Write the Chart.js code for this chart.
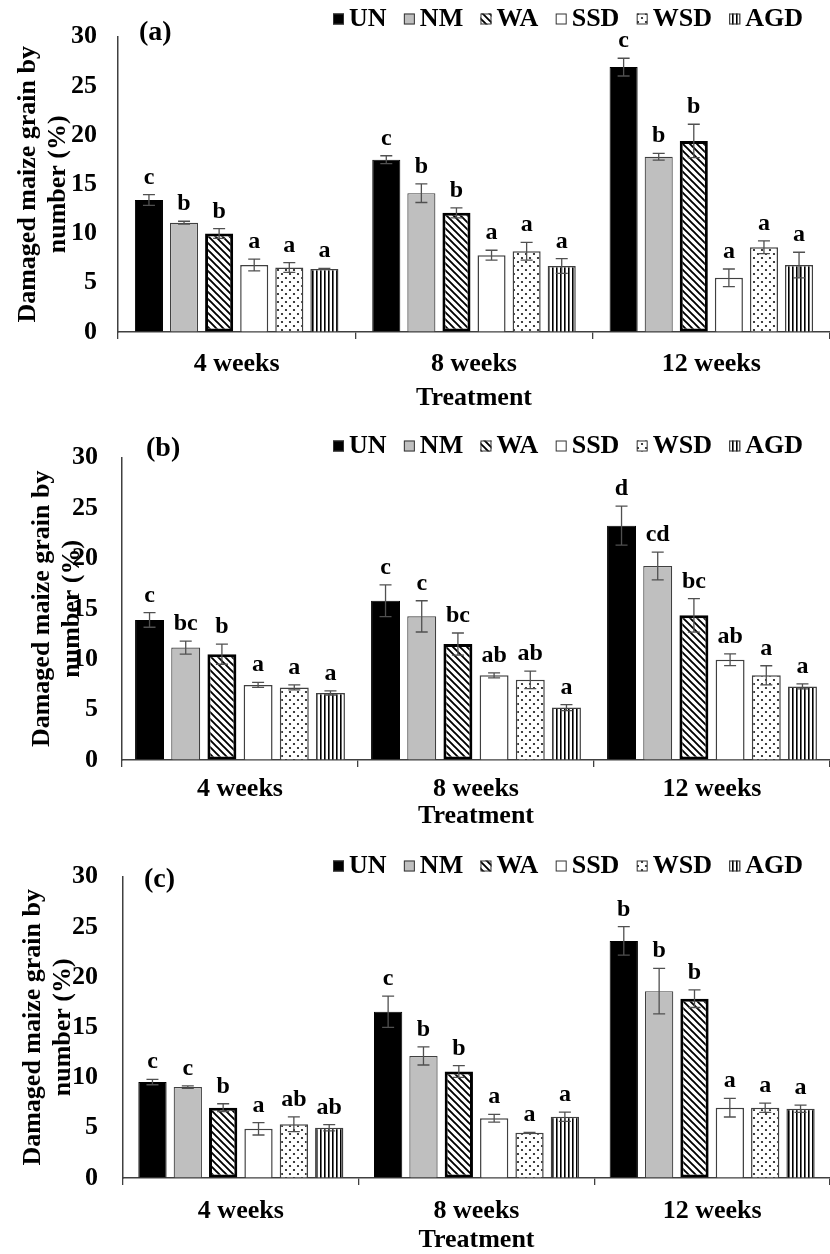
<!DOCTYPE html>
<html><head><meta charset="utf-8">
<script src="https://cdn.jsdelivr.net/npm/chart.js@4.4.0/dist/chart.umd.min.js"></script>
<style>
html,body{margin:0;padding:0;background:#fff;}
#wrap{position:relative;width:830px;height:1254px;overflow:hidden;background:#fff;}
canvas{position:absolute;left:0;}
</style></head><body>
<div id="wrap">
<canvas id="ca" width="830" height="418" style="top:0px"></canvas>
<canvas id="cb" width="830" height="418" style="top:418px"></canvas>
<canvas id="cc" width="830" height="418" style="top:836px"></canvas>
</div>
<script>
// ---------- data ----------
const categories = ['4 weeks', '8 weeks', '12 weeks'];
const seriesNames = ['UN', 'NM', 'WA', 'SSD', 'WSD', 'AGD'];
const yTicks = [0, 5, 10, 15, 20, 25, 30];
const xTitle = 'Treatment';
const yTitle = ['Damaged maize grain by', 'number (%)'];

// panel (a)
const aUN  = [13.4, 17.5, 26.9];   const aUNerr  = [0.55, 0.4, 0.9];   const aUNlet  = ['c', 'c', 'c'];
const aNM  = [11.1, 14.1, 17.8];   const aNMerr  = [0.15, 0.95, 0.35]; const aNMlet  = ['b', 'b', 'b'];
const aWA  = [10.0, 12.1, 19.4];   const aWAerr  = [0.5, 0.5, 1.7];    const aWAlet  = ['b', 'b', 'b'];
const aSSD = [6.8, 7.8, 5.5];      const aSSDerr = [0.6, 0.5, 0.9];    const aSSDlet = ['a', 'a', 'a'];
const aWSD = [6.55, 8.2, 8.6];     const aWSDerr = [0.5, 0.9, 0.65];   const aWSDlet = ['a', 'a', 'a'];
const aAGD = [6.4, 6.7, 6.8];      const aAGDerr = [0.05, 0.75, 1.3];  const aAGDlet = ['a', 'a', 'a'];

// panel (b)
const bUN  = [13.9, 15.8, 23.25];  const bUNerr  = [0.73, 1.57, 1.94]; const bUNlet  = ['c', 'c', 'd'];
const bNM  = [11.15, 14.25, 19.25];const bNMerr  = [0.65, 1.55, 1.38]; const bNMlet  = ['bc', 'c', 'cd'];
const bWA  = [10.5, 11.5, 14.35];  const bWAerr  = [1.0, 1.1, 1.66];   const bWAlet  = ['b', 'bc', 'bc'];
const bSSD = [7.45, 8.4, 9.95];    const bSSDerr = [0.25, 0.25, 0.58]; const bSSDlet = ['a', 'ab', 'ab'];
const bWSD = [7.2, 7.95, 8.4];     const bWSDerr = [0.25, 0.87, 0.95]; const bWSDlet = ['a', 'ab', 'a'];
const bAGD = [6.65, 5.2, 7.3];     const bAGDerr = [0.2, 0.3, 0.25];   const bAGDlet = ['a', 'a', 'a'];

// panel (c)
const cUN  = [9.55, 16.55, 23.6];  const cUNerr  = [0.27, 1.56, 1.42]; const cUNlet  = ['c', 'c', 'b'];
const cNM  = [9.05, 12.15, 18.6];  const cNMerr  = [0.12, 0.9, 2.27];  const cNMlet  = ['c', 'b', 'b'];
const cWA  = [7.0, 10.6, 17.85];   const cWAerr  = [0.39, 0.59, 0.88]; const cWAlet  = ['b', 'b', 'b'];
const cSSD = [4.9, 5.95, 7.0];     const cSSDerr = [0.62, 0.39, 0.93]; const cSSDlet = ['a', 'a', 'a'];
const cWSD = [5.35, 4.5, 7.0];     const cWSDerr = [0.73, 0.03, 0.46]; const cWSDlet = ['ab', 'a', 'a'];
const cAGD = [5.0, 6.1, 6.9];      const cAGDerr = [0.31, 0.46, 0.36]; const cAGDlet = ['ab', 'a', 'a'];

// ---------- drawing ----------
const FONT = '"Liberation Serif", "Times New Roman", serif';

function makePatterns(ctx) {
  const mk = (w, h, draw) => {
    const c = document.createElement('canvas'); c.width = w; c.height = h;
    const g = c.getContext('2d'); g.fillStyle = '#fff'; g.fillRect(0, 0, w, h); draw(g);
    return ctx.createPattern(c, 'repeat');
  };
  return {
    WA: mk(7, 7, g => { g.strokeStyle = '#000'; g.lineWidth = 1.9; g.beginPath();
      for (let k = -7; k <= 7; k += 7) { g.moveTo(k - 1, -1); g.lineTo(k + 8, 8); } g.stroke(); }),
    WSD: mk(8, 8, g => { g.fillStyle = '#111';
      g.beginPath(); g.arc(2, 2, 1.1, 0, Math.PI * 2); g.fill();
      g.beginPath(); g.arc(6, 6, 1.1, 0, Math.PI * 2); g.fill(); }),
    AGD: mk(4, 4, g => { g.fillStyle = '#000'; g.fillRect(0, 0, 1.6, 4); })
  };
}

const decoPlugin = {
  id: 'deco',
  afterDatasetsDraw(chart, args, o) {
    const ctx = chart.ctx, ys = chart.scales.y;
    ctx.save();
    chart.data.datasets.forEach((ds, i) => {
      const meta = chart.getDatasetMeta(i);
      meta.data.forEach((bar, j) => {
        const v = ds.data[j], e = ds.errors[j];
        const yt = ys.getPixelForValue(v + e), yb = ys.getPixelForValue(v - e);
        ctx.strokeStyle = '#505050'; ctx.lineWidth = 1.3;
        ctx.beginPath();
        ctx.moveTo(bar.x, yt); ctx.lineTo(bar.x, yb);
        ctx.moveTo(bar.x - 6, yt); ctx.lineTo(bar.x + 6, yt);
        ctx.moveTo(bar.x - 6, yb); ctx.lineTo(bar.x + 6, yb);
        ctx.stroke();
        ctx.fillStyle = '#000'; ctx.font = 'bold 24px ' + FONT;
        ctx.textAlign = 'center'; ctx.textBaseline = 'alphabetic';
        ctx.fillText(ds.letters[j], bar.x, yt - 11);
      });
    });
    // panel label
    ctx.fillStyle = '#000'; ctx.font = 'bold 28px ' + FONT;
    ctx.textAlign = 'left'; ctx.textBaseline = 'middle';
    ctx.fillText(o.panel, o.panelX, o.panelY);
    // legend
    ctx.font = 'bold 26px ' + FONT;
    const box = 11, boxGap = 5;
    let total = 0;
    seriesNames.forEach(n => { total += box + boxGap + ctx.measureText(n).width; });
    const gap = (o.legendRight - o.legendLeft - total) / (seriesNames.length - 1);
    let x = o.legendLeft; const y = o.legendY;
    seriesNames.forEach((n, i) => {
      const ds = chart.data.datasets[i];
      ctx.fillStyle = ds.backgroundColor; ctx.fillRect(x, y - box / 2, box, box);
      ctx.strokeStyle = '#333'; ctx.lineWidth = 1; ctx.strokeRect(x + 0.5, y - box / 2 + 0.5, box - 1, box - 1);
      x += box + boxGap;
      ctx.fillStyle = '#000'; ctx.textAlign = 'left'; ctx.textBaseline = 'middle';
      ctx.fillText(n, x, y);
      x += ctx.measureText(n).width + gap;
    });
    ctx.restore();
  }
};

function makeChart(id, vals, errs, lets, L) {
  const ctx = document.getElementById(id).getContext('2d');
  const P = makePatterns(ctx);
  const styles = [
    { backgroundColor: '#000000', borderColor: '#000000', borderWidth: 1 },
    { backgroundColor: '#bfbfbf', borderColor: '#404040', borderWidth: 1.2 },
    { backgroundColor: P.WA, borderColor: '#000000', borderWidth: 3, borderSkipped: false },
    { backgroundColor: '#ffffff', borderColor: '#404040', borderWidth: 1.5 },
    { backgroundColor: P.WSD, borderColor: '#404040', borderWidth: 1.5 },
    { backgroundColor: P.AGD, borderColor: '#404040', borderWidth: 1.5 }
  ];
  const datasets = seriesNames.map((n, i) => Object.assign({
    label: n, data: vals[i], errors: errs[i], letters: lets[i],
    categoryPercentage: L.catPct, barPercentage: 0.8
  }, styles[i]));
  return new Chart(ctx, {
    type: 'bar',
    data: { labels: categories, datasets },
    plugins: [decoPlugin],
    options: {
      responsive: false, animation: false, devicePixelRatio: 1,
      layout: { padding: { left: 0, right: L.right, top: L.top, bottom: 0 } },
      plugins: {
        legend: { display: false }, tooltip: { enabled: false },
        deco: { panel: L.panel, panelX: L.panelX, panelY: L.panelY,
                legendLeft: 333, legendRight: 803, legendY: L.legendY }
      },
      scales: {
        x: {
          grid: { display: true, drawOnChartArea: false, drawTicks: true, tickLength: 7, color: '#404040', lineWidth: 1.3, offset: true },
          border: { display: true, color: '#404040', width: 1.5 },
          ticks: { color: '#000', padding: L.xPad, font: { family: FONT, size: 26, weight: 'bold' } },
          title: { display: true, text: xTitle, color: '#000', padding: { top: 0, bottom: L.xtPad },
                   font: { family: FONT, size: 26, weight: 'bold', lineHeight: L.xtLH } },
          afterFit: s => { s.height = 418 - L.axisY; }
        },
        y: {
          min: 0, max: 30,
          afterBuildTicks: s => { s.ticks = yTicks.map(v => ({ value: v })); },
          grid: { display: true, drawOnChartArea: false, drawTicks: false },
          border: { display: true, color: '#404040', width: 1.5 },
          ticks: { color: '#000', padding: L.yPad, font: { family: FONT, size: 26, weight: 'bold' } },
          title: { display: true, text: yTitle, color: '#000', padding: { top: L.ytPad, bottom: 0 },
                   font: { family: FONT, size: 26, weight: 'bold', lineHeight: 1.15 } },
          afterFit: s => { s.width = L.left; }
        }
      }
    }
  });
}

makeChart('ca',
  [aUN, aNM, aWA, aSSD, aWSD, aAGD],
  [aUNerr, aNMerr, aWAerr, aSSDerr, aWSDerr, aAGDerr],
  [aUNlet, aNMlet, aWAlet, aSSDlet, aWSDlet, aAGDlet],
  { panel: '(a)', panelX: 139, panelY: 33, legendY: 19, top: 29, axisY: 332, left: 118, right: -2,
    catPct: 0.887, xPad: 9.4, xtPad: 4.4, xtLH: 1.2, yPad: 21, ytPad: 13 });

makeChart('cb',
  [bUN, bNM, bWA, bSSD, bWSD, bAGD],
  [bUNerr, bNMerr, bWAerr, bSSDerr, bWSDerr, bAGDerr],
  [bUNlet, bNMlet, bWAlet, bSSDlet, bWSDlet, bAGDlet],
  { panel: '(b)', panelX: 146, panelY: 31, legendY: 28, top: 20, axisY: 342, left: 122, right: -6,
    catPct: 0.92, xPad: 6.4, xtPad: 4.4, xtLH: 1.2, yPad: 24, ytPad: 27 });

makeChart('cc',
  [cUN, cNM, cWA, cSSD, cWSD, cAGD],
  [cUNerr, cNMerr, cWAerr, cSSDerr, cWSDerr, cAGDerr],
  [cUNlet, cNMlet, cWAlet, cSSDlet, cWSDlet, cAGDlet],
  { panel: '(c)', panelX: 144, panelY: 44, legendY: 30, top: 19, axisY: 342, left: 123, right: -7,
    catPct: 0.9, xPad: 10.4, xtPad: 1, xtLH: 1.0, yPad: 25, ytPad: 18 });
</script>
</body></html>
